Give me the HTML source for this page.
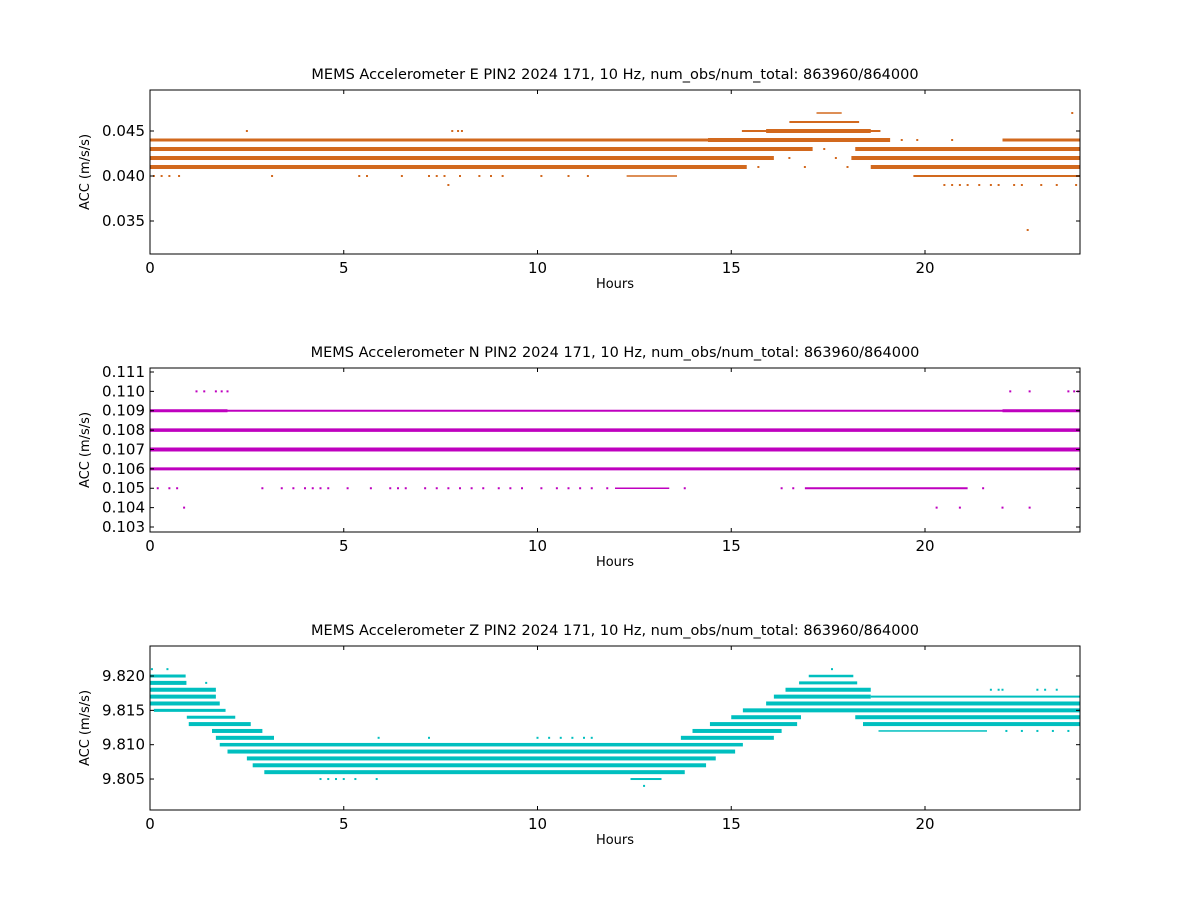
<!DOCTYPE html>
<html><head><meta charset="utf-8"><style>
body{margin:0;background:#fff;}
svg{display:block;font-family:"DejaVu Sans","Liberation Sans",sans-serif;}
</style></head><body>
<svg id="fig" width="1200" height="900" viewBox="0 0 1200 900"></svg>
<script>
// ---------- shared axis data ----------
const xTicks = [0, 5, 10, 15, 20];
const xMax = 24;

// ---------- Panel E ----------
const eTitle = "MEMS Accelerometer E PIN2 2024 171, 10 Hz, num_obs/num_total: 863960/864000";
const eYTicks = [0.035, 0.040, 0.045];
const eYTickLabels = ["0.035", "0.040", "0.045"];
const eBandLevels = [0.047, 0.046, 0.045, 0.045, 0.044, 0.044, 0.044, 0.043, 0.043, 0.042, 0.042, 0.041, 0.041, 0.040, 0.040];
const eBandStarts = [17.2, 16.5, 15.3, 15.9, 0, 14.4, 22.0, 0, 18.2, 0, 18.1, 0, 18.6, 12.3, 19.7];
const eBandEnds   = [17.85, 18.3, 18.85, 18.6, 14.4, 19.1, 24, 17.1, 24, 16.1, 24, 15.4, 24, 13.6, 24];
const eBandWeights = [1.5, 2, 2, 4, 3, 4, 3, 4, 4, 4, 4, 4, 4, 1.5, 2];
const eDotLevels = [0.047, 0.045, 0.045, 0.045, 0.045, 0.045, 0.045, 0.044, 0.044, 0.044, 0.043, 0.042, 0.042, 0.041, 0.041, 0.041,
  0.040, 0.040, 0.040, 0.040, 0.040, 0.040, 0.040, 0.040, 0.040, 0.040, 0.040, 0.040, 0.040, 0.040, 0.040, 0.040, 0.040, 0.040,
  0.039, 0.039, 0.039, 0.039, 0.039, 0.039, 0.039, 0.039, 0.039, 0.039, 0.039, 0.039, 0.039, 0.034];
const eDotHours = [23.8, 2.5, 7.8, 7.95, 8.05, 15.3, 15.5, 19.4, 19.8, 20.7, 17.4, 16.5, 17.7, 15.7, 16.9, 18.0,
  0.1, 0.3, 0.5, 0.75, 3.15, 5.4, 5.6, 6.5, 7.2, 7.4, 7.6, 8.0, 8.5, 8.8, 9.1, 10.1, 10.8, 11.3,
  7.7, 20.5, 20.7, 20.9, 21.1, 21.4, 21.7, 21.9, 22.3, 22.5, 23.0, 23.4, 23.9, 22.65];

// ---------- Panel N ----------
const nTitle = "MEMS Accelerometer N PIN2 2024 171, 10 Hz, num_obs/num_total: 863960/864000";
const nYTicks = [0.103, 0.104, 0.105, 0.106, 0.107, 0.108, 0.109, 0.110, 0.111];
const nYTickLabels = ["0.103", "0.104", "0.105", "0.106", "0.107", "0.108", "0.109", "0.110", "0.111"];
const nBandLevels = [0.109, 0.109, 0.109, 0.108, 0.107, 0.106, 0.105, 0.105];
const nBandStarts = [0, 0, 22.0, 0, 0, 0, 12.0, 16.9];
const nBandEnds   = [24, 2.0, 24, 24, 24, 24, 13.4, 21.1];
const nBandWeights = [2, 3, 3, 3.5, 4, 3, 1.5, 2];
const nDotLevels = [0.110, 0.110, 0.110, 0.110, 0.110, 0.110, 0.110, 0.110, 0.110, 0.110,
  0.105, 0.105, 0.105, 0.105, 0.105, 0.105, 0.105, 0.105, 0.105, 0.105, 0.105, 0.105, 0.105, 0.105, 0.105, 0.105, 0.105, 0.105,
  0.105, 0.105, 0.105, 0.105, 0.105, 0.105, 0.105, 0.105, 0.105, 0.105, 0.105, 0.105, 0.105, 0.105, 0.105, 0.105,
  0.104, 0.104, 0.104, 0.104, 0.104];
const nDotHours = [1.2, 1.4, 1.7, 1.85, 2.0, 22.2, 22.7, 23.7, 23.85, 23.95,
  0.2, 0.5, 0.7, 2.9, 3.4, 3.7, 4.0, 4.2, 4.4, 4.6, 5.1, 5.7, 6.2, 6.4, 6.6, 7.1, 7.4, 7.7,
  8.0, 8.3, 8.6, 9.0, 9.3, 9.6, 10.1, 10.5, 10.8, 11.1, 11.4, 11.8, 13.8, 16.3, 16.6, 21.5,
  0.88, 20.3, 20.9, 22.0, 22.7];

// ---------- Panel Z ----------
const zTitle = "MEMS Accelerometer Z PIN2 2024 171, 10 Hz, num_obs/num_total: 863960/864000";
const zYTicks = [9.805, 9.810, 9.815, 9.820];
const zYTickLabels = ["9.805", "9.810", "9.815", "9.820"];
const zBandLevels = [9.820, 9.820, 9.819, 9.819, 9.818, 9.818, 9.817, 9.817, 9.817, 9.816, 9.816, 9.815, 9.815,
  9.814, 9.814, 9.814, 9.813, 9.813, 9.813, 9.812, 9.812, 9.812, 9.811, 9.811, 9.810, 9.809, 9.808, 9.807, 9.806, 9.805];
const zBandStarts = [0, 17.0, 0, 16.75, 0, 16.4, 0, 16.1, 18.6, 0, 15.9, 0.1, 15.3,
  0.95, 15.0, 18.2, 1.0, 14.45, 18.4, 1.6, 14.0, 18.8, 1.7, 13.7, 1.8, 2.0, 2.5, 2.65, 2.95, 12.4];
const zBandEnds = [0.92, 18.15, 0.94, 18.25, 1.7, 18.6, 1.7, 18.6, 24, 1.8, 24, 1.95, 24,
  2.2, 16.8, 24, 2.6, 16.7, 24, 2.9, 16.3, 21.6, 3.2, 16.1, 15.3, 15.1, 14.6, 14.35, 13.8, 13.2];
const zBandWeights = [3, 2.5, 4, 3, 4, 4, 4, 4, 2, 4, 4, 3, 4,
  3, 4, 4, 4, 4, 4, 4, 4, 1.5, 4, 4, 3.5, 4, 4, 4, 4, 2];
const zDotLevels = [9.821, 9.821, 9.821, 9.819, 9.818, 9.818, 9.818, 9.818, 9.818, 9.818, 9.815, 9.815, 9.815,
  9.812, 9.812, 9.812, 9.812, 9.812, 9.811, 9.811, 9.811, 9.811, 9.811, 9.811, 9.811, 9.811, 9.810, 9.810,
  9.805, 9.805, 9.805, 9.805, 9.805, 9.805, 9.804];
const zDotHours = [0.05, 0.45, 17.6, 1.45, 21.7, 21.9, 22.0, 22.9, 23.1, 23.4, 0.2, 0.4, 0.6,
  22.1, 22.5, 22.9, 23.3, 23.7, 5.9, 7.2, 10.0, 10.3, 10.6, 10.9, 11.2, 11.4, 12.7, 13.0,
  4.4, 4.6, 4.8, 5.0, 5.3, 5.85, 12.75];

const panels = [
  {key:"e", top:90, title:eTitle, yMin:0.031333, yMax:0.049556, ticks:eYTicks, tickLabels:eYTickLabels,
   bL:eBandLevels, bS:eBandStarts, bE:eBandEnds, bW:eBandWeights, dL:eDotLevels, dH:eDotHours, color:"#d2691e"},
  {key:"n", top:368, title:nTitle, yMin:0.102742, yMax:0.111206, ticks:nYTicks, tickLabels:nYTickLabels,
   bL:nBandLevels, bS:nBandStarts, bE:nBandEnds, bW:nBandWeights, dL:nDotLevels, dH:nDotHours, color:"#bf00bf"},
  {key:"z", top:646, title:zTitle, yMin:9.80049, yMax:9.82437, ticks:zYTicks, tickLabels:zYTickLabels,
   bL:zBandLevels, bS:zBandStarts, bE:zBandEnds, bW:zBandWeights, dL:zDotLevels, dH:zDotHours, color:"#00bfbf"}
];

const NS = "http://www.w3.org/2000/svg";
const fig = document.getElementById("fig");
const L = 150, R = 1080, H = 164;

function mk(tag, attrs, parent) {
  const el = document.createElementNS(NS, tag);
  for (const k in attrs) el.setAttribute(k, attrs[k]);
  parent.appendChild(el);
  return el;
}

panels.forEach(p => {
  const g = mk("g", {}, fig);
  
  
  const top = p.top, bot = top + H;
  const xs = h => L + (h / xMax) * (R - L);
  const ys = v => bot - (v - p.yMin) / (p.yMax - p.yMin) * H;

  for (let i = 0; i < p.bL.length; i++) {
    const x1 = xs(p.bS[i]), x2 = xs(p.bE[i]), y = ys(p.bL[i]), w = p.bW[i];
    const r = mk("rect", {x:x1, y:y - w/2, width:Math.max(1, x2 - x1), height:w, fill:p.color}, g);
    
    
  }
  for (let i = 0; i < p.dL.length; i++) {
    const d = mk("rect", {x:xs(p.dH[i]) - 1, y:ys(p.dL[i]) - 1, width:2, height:2, fill:p.color}, g);
    
    
  }
  const fr = mk("rect", {x:L, y:top, width:R - L, height:H, fill:"none", stroke:"#000", "stroke-width":1}, g);
  
  
  xTicks.forEach(t => {
    const x = xs(t);
    mk("line", {x1:x, y1:bot, x2:x, y2:bot - 4, stroke:"#000"}, g);
    mk("line", {x1:x, y1:top, x2:x, y2:top + 4, stroke:"#000"}, g);
    const tx = mk("text", {x:x, y:bot + 19, "font-size":15, "text-anchor":"middle"}, g);
    tx.textContent = String(t);
    
    
  });
  p.ticks.forEach((t, i) => {
    const y = ys(t);
    mk("line", {x1:L, y1:y, x2:L + 4, y2:y, stroke:"#000"}, g);
    mk("line", {x1:R, y1:y, x2:R - 4, y2:y, stroke:"#000"}, g);
    const tx = mk("text", {x:L - 5, y:y + 5, "font-size":15, "text-anchor":"end"}, g);
    tx.textContent = p.tickLabels[i];
    
    
  });
  const ti = mk("text", {x:(L + R) / 2, y:top - 11, "font-size":14.5, "text-anchor":"middle"}, g);
  ti.textContent = p.title;
  
  
  const xl = mk("text", {x:(L + R) / 2, y:bot + 34, "font-size":13, "text-anchor":"middle"}, g);
  xl.textContent = "Hours";
  
  
  const cy = top + H / 2;
  const yl = mk("text", {x:89, y:cy, "font-size":13, "text-anchor":"middle", transform:"rotate(-90 89 " + cy + ")"}, g);
  yl.textContent = "ACC (m/s/s)";
  
  
});
</script>
</body></html>
